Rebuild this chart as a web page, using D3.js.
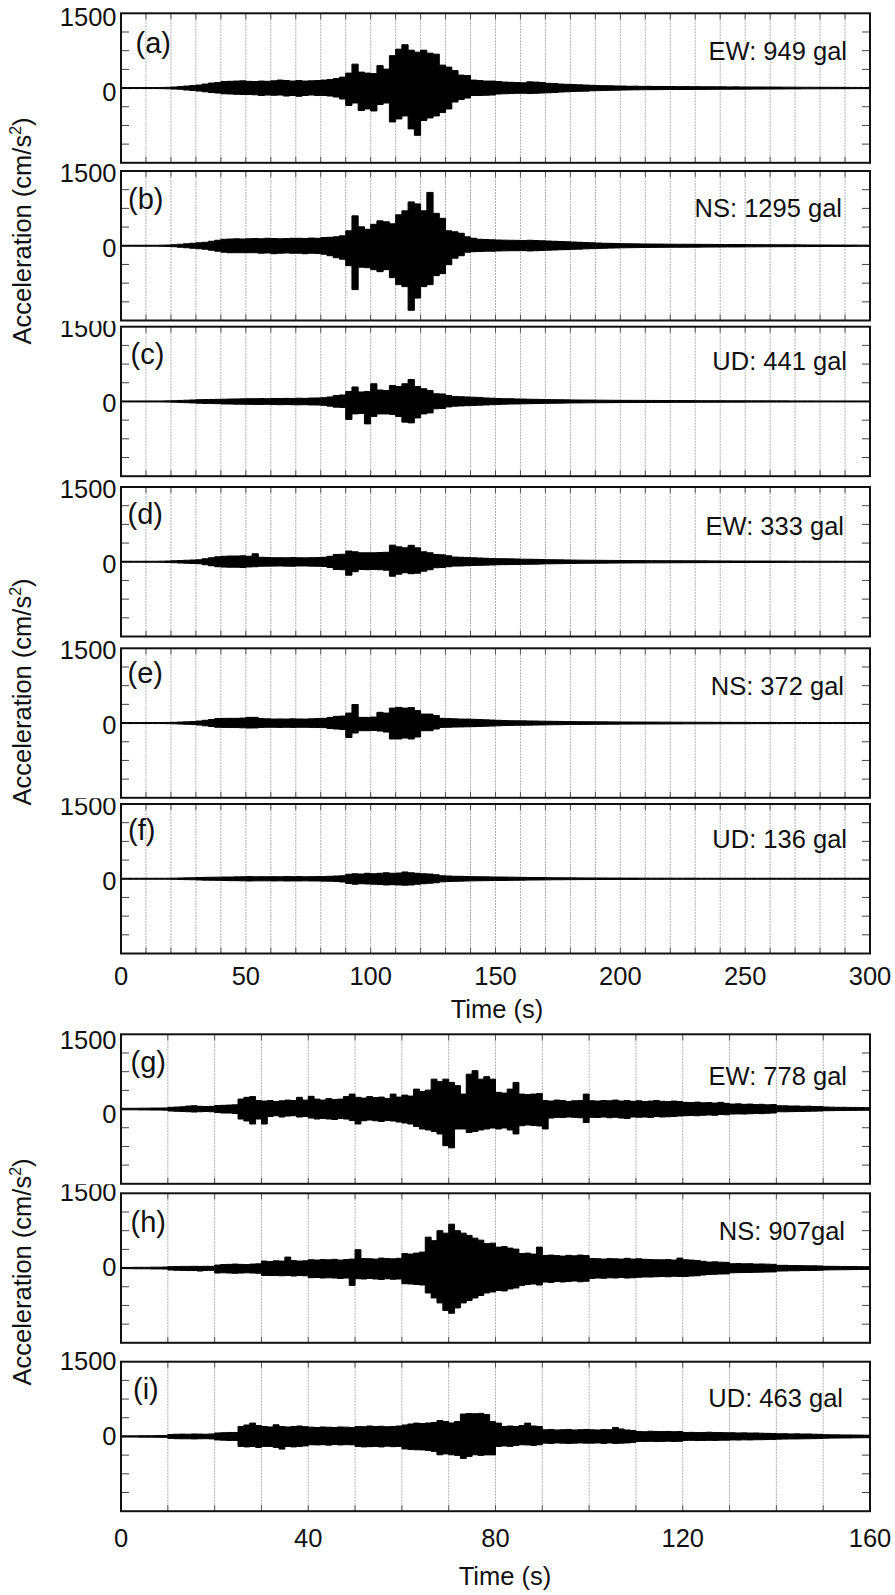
<!DOCTYPE html>
<html>
<head>
<meta charset="utf-8">
<script src="https://cdn.jsdelivr.net/npm/d3@7"></script>
<style>
  body { margin: 0; background: #fff; }
  text { font-family: "Liberation Sans", Arial, sans-serif; fill: #111; }
</style>
</head>
<body>
<div id="chart"></div>
<script>
// envelope of each record, peak up / peak down (gal) per time bin
// top records: 2.5 s bins from 0 to 300 s, bottom records: 1.25 s bins from 0 to 160 s
const aUp = [10,10,10,10,10,10,12,15, 20,30,40,50,60,80,100,110, 130,135,140,145,135,130,140,135, 145,160,150,140,150,140,145,150,
  160,170,190,220,300,480,320,300, 290,450,380,650,780,870,760,720, 760,700,680,460,420,350,260,250, 160,150,140,140,130,120,115,110,
  105,125,120,110,95,90,80,75, 70,65,60,55,50,48,45,42, 40,36,38,33,35,30,32,31, 30,28,29,27,28,26,26,25,
  25,23,24,22,22,21,21,20, 20,19,18,18,17,16,16,15, 15,15,14,14,13,13,12,12];
const aDn = [10,10,10,10,10,10,12,15, 20,25,40,50,60,75,90,100, 115,120,125,130,130,135,150,140, 145,140,160,150,165,150,140,150,
  150,160,180,220,350,300,450,420, 460,330,300,680,620,560,820,949, 650,600,560,490,420,280,230,200, 150,150,145,140,120,115,110,105,
  105,110,105,100,95,90,80,75, 70,65,62,55,52,48,45,42, 40,37,36,34,33,33,31,30, 30,29,29,28,27,27,26,25,
  24,24,23,23,22,21,21,20, 20,19,18,17,17,16,15,15, 15,14,14,13,13,12,12,12];

const bUp = [10,10,10,10,10,10,12,15, 20,30,40,50,60,70,90,110, 130,135,140,135,140,145,140,150, 145,140,145,150,150,145,155,150,
  165,170,180,200,300,600,380,330, 430,500,480,440,620,700,880,840, 700,1070,650,550,300,280,250,180, 150,130,125,120,115,112,110,108,
  105,110,105,100,95,90,85,80, 75,70,65,60,55,50,48,45, 42,40,38,36,35,34,33,32, 31,30,30,29,28,28,27,26,
  25,25,24,23,23,22,21,21, 20,20,19,18,18,17,16,16, 15,15,14,14,13,13,12,12];
const bDn = [10,10,10,10,10,10,12,15, 20,30,40,50,60,70,90,110, 130,140,140,140,140,140,150,145, 160,150,145,150,150,160,150,155,
  170,200,240,270,400,880,430,440, 480,520,480,640,780,820,1295,1050, 820,780,600,560,380,250,200,130, 120,115,110,110,105,102,100,100,
  98,105,100,95,90,85,80,78, 72,68,62,58,54,50,47,44, 41,39,37,35,34,33,32,31, 30,30,29,28,28,27,26,26,
  25,24,24,23,22,22,21,20, 20,19,19,18,17,17,16,15, 15,14,14,13,13,12,12,12];

const cUp = [10,10,10,10,10,10,10,12, 15,20,25,30,35,38,40,42, 45,48,50,52,55,55,58,55, 60,58,62,60,65,62,68,70,
  75,90,120,130,200,290,190,200, 355,230,220,320,300,355,441,300, 255,220,155,150,120,100,95,90, 85,80,70,65,60,55,55,50,
  48,45,42,40,38,36,34,32, 30,29,28,27,26,25,24,23, 22,22,21,21,20,20,19,19, 18,18,17,17,16,16,15,15,
  15,14,14,14,13,13,13,12, 12,12,12,11,11,11,11,10, 10,10,10,10,10,10,10,10];
const cDn = [10,10,10,10,10,10,10,12, 15,20,25,30,35,40,42,45, 50,52,55,55,58,60,60,58, 62,65,62,66,68,65,70,72,
  78,95,115,120,360,250,240,450, 300,250,250,260,300,415,430,330, 250,230,147,140,110,95,90,85, 80,75,70,65,60,55,52,50,
  48,45,42,40,38,36,34,32, 30,29,28,27,26,25,24,23, 22,22,21,21,20,20,19,19, 18,18,17,17,16,16,15,15,
  15,14,14,14,13,13,13,12, 12,12,12,11,11,11,11,10, 10,10,10,10,10,10,10,10];

const dUp = [10,10,10,10,10,10,12,15, 20,25,30,35,40,60,80,100, 110,115,115,120,110,160,90,85, 80,82,80,85,80,78,82,85,
  90,110,147,150,215,200,180,180, 180,185,190,333,300,280,330,280, 200,180,147,140,120,94,90,85, 80,75,70,65,62,60,58,55,
  52,50,48,45,42,40,38,36, 34,32,31,30,29,28,27,26, 25,24,23,23,22,22,21,21, 20,20,19,19,18,18,17,17,
  16,16,15,15,15,14,14,14, 13,13,13,12,12,12,12,11, 11,11,11,10,10,10,10,10];
const dDn = [10,10,10,10,10,10,12,15, 20,25,30,35,40,60,80,100, 107,110,110,115,105,100,90,88, 87,85,88,90,85,85,88,90,
  95,115,155,160,270,200,155,160, 155,160,170,290,250,220,240,230, 190,160,120,115,100,87,85,80, 75,72,68,64,60,58,56,54,
  52,50,48,45,42,40,38,36, 34,32,31,30,29,28,27,26, 25,24,23,23,22,22,21,21, 20,20,19,19,18,18,17,17,
  16,16,15,15,15,14,14,14, 13,13,13,12,12,12,12,11, 11,11,11,10,10,10,10,10];

const eUp = [10,10,10,10,10,10,10,12, 15,20,25,30,40,55,70,90, 94,95,94,100,114,114,90,85, 80,82,80,85,82,80,85,90,
  95,110,134,140,200,372,114,114, 120,215,200,300,315,300,310,250, 180,180,150,94,90,85,80,80, 75,70,65,60,55,50,47,45,
  44,42,40,38,36,34,32,30, 29,28,27,26,25,24,23,22, 21,21,20,20,19,19,18,18, 17,17,16,16,15,15,15,14,
  14,14,13,13,13,12,12,12, 12,11,11,11,11,10,10,10, 10,10,10,10,10,10,10,10];
const eDn = [10,10,10,10,10,10,10,12, 15,20,25,30,40,55,70,85, 87,90,90,95,100,98,88,85, 85,88,85,88,85,85,88,90,
  92,110,120,130,290,200,154,154, 150,160,180,320,320,300,320,280, 154,154,120,87,85,80,78,75, 72,68,64,60,55,50,47,45,
  44,42,40,38,36,34,32,30, 29,28,27,26,25,24,23,22, 21,21,20,20,19,19,18,18, 17,17,16,16,15,15,15,14,
  14,14,13,13,13,12,12,12, 12,11,11,11,11,10,10,10, 10,10,10,10,10,10,10,10];

const fUp = [10,10,10,10,10,10,10,10, 12,15,18,20,25,28,30,32, 35,35,38,40,45,40,42,40, 42,40,45,42,44,40,42,45,
  45,50,55,60,90,100,95,110, 100,110,120,110,115,136,120,110, 100,95,80,60,55,50,48,45, 42,40,38,36,35,34,32,30,
  28,26,25,24,22,20,20,18, 18,17,16,16,15,15,14,14, 13,13,13,12,12,12,12,11, 11,11,11,11,10,10,10,10,
  10,10,10,10,10,10,10,10, 10,10,10,10,10,10,10,10, 10,10,10,10,10,10,10,10];
const fDn = [10,10,10,10,10,10,10,10, 12,15,18,20,25,28,30,32, 35,38,38,42,45,42,42,42, 44,42,45,44,44,42,44,45,
  48,50,55,65,95,110,100,105, 110,115,125,120,125,130,125,110, 100,90,80,62,55,52,48,45, 42,40,38,36,35,34,32,30,
  28,26,25,24,22,20,20,18, 18,17,16,16,15,15,14,14, 13,13,13,12,12,12,12,11, 11,11,11,11,10,10,10,10,
  10,10,10,10,10,10,10,10, 10,10,10,10,10,10,10,10, 10,10,10,10,10,10,10,10];

const gUp = [15,15,15,18,18,20,20,22, 35,40,45,60,67,55,50,54, 70,75,80,85,200,235,250,170, 160,170,150,165,180,170,235,180,
  255,200,180,210,190,200,250,300, 235,220,250,230,240,210,300,240, 280,260,400,350,380,600,550,600, 535,470,300,700,770,600,650,600,
  335,320,400,535,300,290,300,310, 170,160,180,170,150,165,170,300, 167,160,170,165,180,160,170,155, 167,150,160,170,155,150,160,150,
  134,130,140,125,130,120,135,115, 100,105,95,100,90,95,85,90, 67,65,60,62,55,58,50,52, 40,38,35,36,33,32,30,28];
const gDn = [15,15,15,18,18,20,20,22, 40,45,50,54,60,54,50,54, 70,80,80,90,200,240,300,200, 300,150,134,160,140,134,160,150,
  180,200,190,200,210,190,200,230, 300,235,220,235,250,230,240,260, 280,300,350,400,420,450,500,735, 778,400,400,470,450,420,400,380,
  400,380,420,500,335,320,330,340, 400,180,167,170,160,167,175,270, 167,170,160,175,165,180,190,160, 165,160,170,150,160,155,150,140,
  134,130,135,125,120,125,110,115, 100,98,100,95,90,92,85,80, 54,55,52,50,48,45,42,40, 33,32,30,30,28,27,25,24];

const hUp = [12,12,15,15,15,18,18,20, 28,30,33,33,35,33,35,33, 60,70,74,80,74,70,80,85, 140,130,145,140,220,150,140,145,
  167,160,170,165,175,160,170,180, 368,190,187,180,200,190,185,195, 290,280,300,320,620,550,750,700, 880,750,700,655,600,560,490,500,
  420,430,400,380,290,300,280,420, 254,260,250,240,255,245,260,250, 190,187,180,190,185,180,195,180, 187,175,170,167,165,170,160,200,
  167,160,150,135,120,125,118,115, 87,90,85,88,80,82,78,75, 54,55,50,50,48,45,45,42, 35,34,33,32,30,30,28,27];
const hDn = [12,12,15,15,15,18,18,20, 40,45,47,50,50,60,47,45, 100,95,100,105,100,95,100,105, 147,150,150,155,150,160,150,155,
  194,190,200,195,200,210,200,348, 214,220,210,220,230,215,225,220, 315,320,330,340,500,600,700,850, 907,800,700,650,600,550,500,480,
  450,460,420,400,350,330,320,340, 280,290,270,280,270,260,275,265, 210,200,205,195,200,190,200,195, 185,180,180,175,170,175,165,170,
  170,160,155,140,130,125,120,118, 95,92,90,88,85,82,80,78, 60,58,55,55,50,50,48,45, 38,36,35,34,32,30,28,27];

const iUp = [12,12,12,15,15,15,18,18, 40,45,47,45,50,47,45,50, 70,75,80,80,200,230,268,220, 200,190,234,200,190,200,210,195,
  187,180,190,185,180,190,187,180, 200,195,210,200,205,195,200,210, 230,250,268,260,270,280,320,300, 270,300,450,460,455,463,440,300,
  268,200,210,200,220,268,210,200, 134,140,130,135,140,130,135,140, 134,130,140,135,180,150,130,120, 100,95,105,100,98,100,95,100,
  80,82,78,80,85,80,78,75, 75,70,72,68,70,65,62,60, 54,55,50,52,48,50,45,42, 35,33,32,30,30,28,27,25];
const iDn = [12,12,12,15,15,15,18,18, 40,45,47,47,50,47,45,50, 70,75,80,80,200,210,200,220, 200,200,220,254,200,210,200,190,
  167,170,165,175,160,170,165,168, 200,210,205,200,210,195,205,200, 250,260,268,270,280,300,368,350, 368,380,440,400,368,380,370,370,
  200,190,200,180,167,170,180,167, 134,140,130,135,140,135,130,134, 134,130,140,130,140,135,130,120, 100,100,98,102,100,95,100,98,
  80,78,82,80,78,80,75,75, 70,72,68,70,66,65,62,60, 54,52,50,50,48,46,44,42, 35,33,32,30,30,28,27,25];

const panelIds = ["(a)", "(b)", "(c)", "(d)", "(e)", "(f)", "(g)", "(h)", "(i)"];
const peakLabels = ["EW: 949 gal", "NS: 1295 gal", "UD: 441 gal", "EW: 333 gal", "NS: 372 gal",
  "UD: 136 gal", "EW: 778 gal", "NS: 907gal", "UD: 463 gal"];
const upSeries = [aUp, bUp, cUp, dUp, eUp, fUp, gUp, hUp, iUp];
const dnSeries = [aDn, bDn, cDn, dDn, eDn, fDn, gDn, hDn, iDn];
const yTickLabels = [1500, 0];
const yMinorTicks = [-1125, -750, -375, 375, 750, 1125];

// layout
const svgWidth = 895, svgHeight = 1595;
const plotLeft = 121, plotRight = 870, panelH = 149.5;
const panelTop = [13.3, 171, 326.7, 487, 648.3, 804, 1034.3, 1193.3, 1361.7];
const numDy = [12.7, 10.8, 10.6, 11.4, 10.6, 11, 14.3, 7.7, 8.3];
const idX = [135.5, 128, 130.5, 127.5, 127.5, 128, 130.5, 130.5, 133];
const idDy = [40, 37.5, 37, 36.5, 34.5, 36, 37.5, 38.5, 37];
const peakRight = [847, 842, 847, 844, 844, 847, 847, 845, 843];
const peakDy = [46.7, 46.3, 43.3, 48, 46.7, 44.3, 50.7, 46.7, 45];

const groups = [
  { panels: [0, 1, 2, 3, 4, 5], dt: 2.5, tMax: 300, labelStep: 50, tickBase: 985, titleY: 1018, titleX: 497 },
  { panels: [6, 7, 8], dt: 1.25, tMax: 160, labelStep: 40, tickBase: 1546.7, titleY: 1585, titleX: 505 }
];

const svg = d3.select("#chart")
  .append("svg")
  .attr("width", svgWidth)
  .attr("height", svgHeight);

const defs = svg.append("defs");

groups.forEach(function(grp, gi) {
  let x = d3.scaleLinear().domain([0, grp.tMax]).range([plotLeft, plotRight]);

  grp.panels.forEach(function(p, k) {
    let top = panelTop[p];
    let y = d3.scaleLinear().domain([-1500, 1500]).range([top + panelH, top]);
    let g = svg.append("g");

    // vertical grid every 10 s
    let grid = d3.range(10, grp.tMax, 10);
    g.selectAll(".grid").data(grid).enter().append("line")
      .attr("x1", d => x(d)).attr("x2", d => x(d))
      .attr("y1", top).attr("y2", top + panelH)
      .attr("stroke", "#9a9a9a").attr("stroke-width", 0.8)
      .attr("stroke-dasharray", "2,1");
    g.selectAll(".tickb").data(grid).enter().append("line")
      .attr("x1", d => x(d)).attr("x2", d => x(d))
      .attr("y1", top + panelH - 6).attr("y2", top + panelH)
      .attr("stroke", "#555").attr("stroke-width", 1);
    g.selectAll(".tickt").data(grid).enter().append("line")
      .attr("x1", d => x(d)).attr("x2", d => x(d))
      .attr("y1", top).attr("y2", top + 6)
      .attr("stroke", "#555").attr("stroke-width", 1);

    // minor y ticks, both sides
    [plotLeft, plotRight].forEach(function(xx, side) {
      g.selectAll(".ytick" + side).data(yMinorTicks).enter().append("line")
        .attr("x1", xx).attr("x2", side === 0 ? xx + 8 : xx - 8)
        .attr("y1", d => y(d)).attr("y2", d => y(d))
        .attr("stroke", "#444").attr("stroke-width", 1);
    });

    // the record
    let ups = upSeries[p], dns = dnSeries[p];
    let rec = ups.map((u, i) => ({ t: i * grp.dt, up: u, dn: dns[i] }));
    rec.push({ t: ups.length * grp.dt, up: ups[ups.length - 1], dn: dns[dns.length - 1] });
    let area = d3.area()
      .x(d => x(d.t))
      .y0(d => y(-d.dn))
      .y1(d => y(d.up))
      .curve(d3.curveStepAfter);
    g.append("path")
      .datum(rec)
      .attr("d", area)
      .attr("fill", "#000")
      .attr("stroke", "#000")
      .attr("stroke-width", 1)
      .attr("stroke-linejoin", "miter");

    // frame
    g.append("rect")
      .attr("x", plotLeft).attr("y", top)
      .attr("width", plotRight - plotLeft).attr("height", panelH)
      .attr("fill", "none").attr("stroke", "#111").attr("stroke-width", 2);

    // y labels; the 1500 is partly hidden under the panel above
    let clipTop = k === 0 ? 0 : panelTop[grp.panels[k - 1]] + panelH + 0.5;
    defs.append("clipPath").attr("id", "clip" + p)
      .append("rect").attr("x", 0).attr("y", clipTop).attr("width", svgWidth).attr("height", svgHeight);
    g.selectAll(".ylab").data(yTickLabels).enter().append("text")
      .attr("x", 116.5)
      .attr("y", d => y(d) + numDy[p])
      .attr("text-anchor", "end")
      .attr("font-size", "25.5px")
      .attr("clip-path", "url(#clip" + p + ")")
      .text(d => d);

    g.append("text")
      .attr("x", idX[p]).attr("y", top + idDy[p])
      .attr("font-size", "29px")
      .text(panelIds[p]);

    g.append("text")
      .attr("x", peakRight[p]).attr("y", top + peakDy[p])
      .attr("text-anchor", "end")
      .attr("font-size", "25.5px")
      .text(peakLabels[p]);
  });

  // time axis labels
  let ticks = d3.range(0, grp.tMax + 1, grp.labelStep);
  svg.selectAll(".xlab" + gi).data(ticks).enter().append("text")
    .attr("x", d => x(d))
    .attr("y", grp.tickBase)
    .attr("text-anchor", "middle")
    .attr("font-size", "25.5px")
    .text(d => d);

  svg.append("text")
    .attr("x", grp.titleX).attr("y", grp.titleY)
    .attr("text-anchor", "middle")
    .attr("font-size", "25.5px")
    .text("Time (s)");
});

// axis titles
const yTitleCenters = [231, 692, 1272];
yTitleCenters.forEach(function(cy) {
  let t = svg.append("text")
    .attr("transform", `translate(31, ${cy}) rotate(-90)`)
    .attr("text-anchor", "middle")
    .attr("font-size", "25.5px");
  t.append("tspan").text("Acceleration (cm/s");
  t.append("tspan").attr("font-size", "16px").attr("dy", -10).text("2");
  t.append("tspan").attr("dy", 10).text(")");
});
</script>
</body>
</html>
